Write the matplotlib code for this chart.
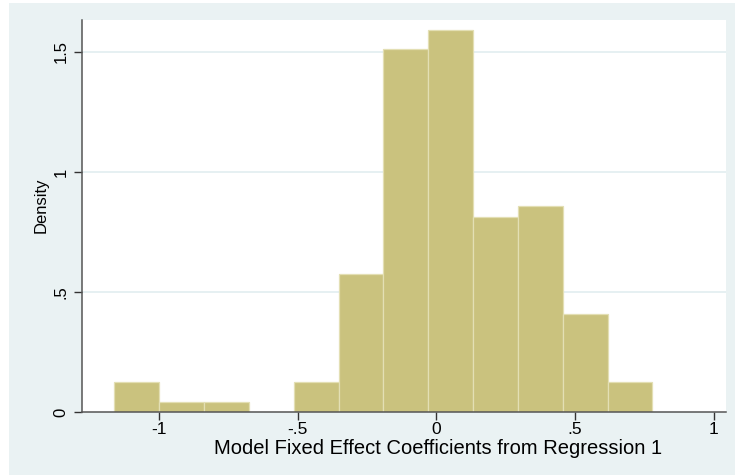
import numpy as np
import matplotlib
matplotlib.use("Agg")
import matplotlib.pyplot as plt
from matplotlib.patches import Rectangle

# ---- data ----
bin_start = -1.162
bin_width = 0.1618
density = [0.124, 0.043, 0.043, 0.0, 0.124, 0.575, 1.511, 1.592, 0.814, 0.858, 0.410, 0.124]
x_ticks = [-1, -0.5, 0, 0.5, 1]
x_tick_labels = ["-1", "-.5", "0", ".5", "1"]
y_ticks = [0, 0.5, 1, 1.5]
y_tick_labels = ["0", ".5", "1", "1.5"]
x_title = "Model Fixed Effect Coefficients from Regression 1"
y_title = "Density"

plt.rcParams['font.family'] = ['Liberation Sans', 'DejaVu Sans']

W, H = 735, 475
fig = plt.figure(figsize=(W / 100, H / 100), dpi=100, facecolor='white')
bg = '#eaf2f3'
fig.patches.append(Rectangle((9 / W, 0), 1 - 9 / W, 1 - 3 / H, transform=fig.transFigure,
                             facecolor=bg, edgecolor='none', zorder=-10))

ax_l, ax_r, ax_t, ax_b = 82, 726, 20, 412
ax = fig.add_axes([ax_l / W, 1 - ax_b / H, (ax_r - ax_l) / W, (ax_b - ax_t) / H])
ax.set_facecolor('white')

n = len(density)
lefts = bin_start + bin_width * np.arange(n)
ax.bar(lefts, density, width=bin_width, align='edge', color='#cac27e',
       edgecolor='#e3dfb4', linewidth=0.9, zorder=3)

ax.set_xlim(-1.279, 1.045)
ax.set_ylim(0, 1.633)

for s in ['top', 'right']:
    ax.spines[s].set_visible(False)
for s in ['left', 'bottom']:
    ax.spines[s].set_color('#555555')
    ax.spines[s].set_linewidth(1.1)
    ax.spines[s].set_zorder(5)

ax.set_xticks(x_ticks)
ax.set_xticklabels(x_tick_labels)
ax.set_yticks(y_ticks)
ax.set_yticklabels(y_tick_labels, rotation=90, va='center')
ax.tick_params(axis='both', colors='#333333', labelcolor='black',
               length=5.5, width=1.0)
ax.tick_params(axis='x', pad=1.5, labelsize=12.5)
ax.tick_params(axis='y', pad=4, labelsize=12)

for yv in y_ticks[1:]:
    ax.axhline(yv, color='#e2edf0', linewidth=1.2, zorder=1)

ax.set_xlabel(x_title, fontsize=14.5, ha='center', va='baseline')
ax.xaxis.set_label_coords((438 - ax_l) / (ax_r - ax_l), -(454 - ax_b) / (ax_b - ax_t))
ax.set_ylabel(y_title, fontsize=12, va='center', ha='center')
ax.yaxis.set_label_coords((41 - ax_l) / (ax_r - ax_l), (ax_b - 205) / (ax_b - ax_t))

fig.savefig('out.png', dpi=100, facecolor='white')
